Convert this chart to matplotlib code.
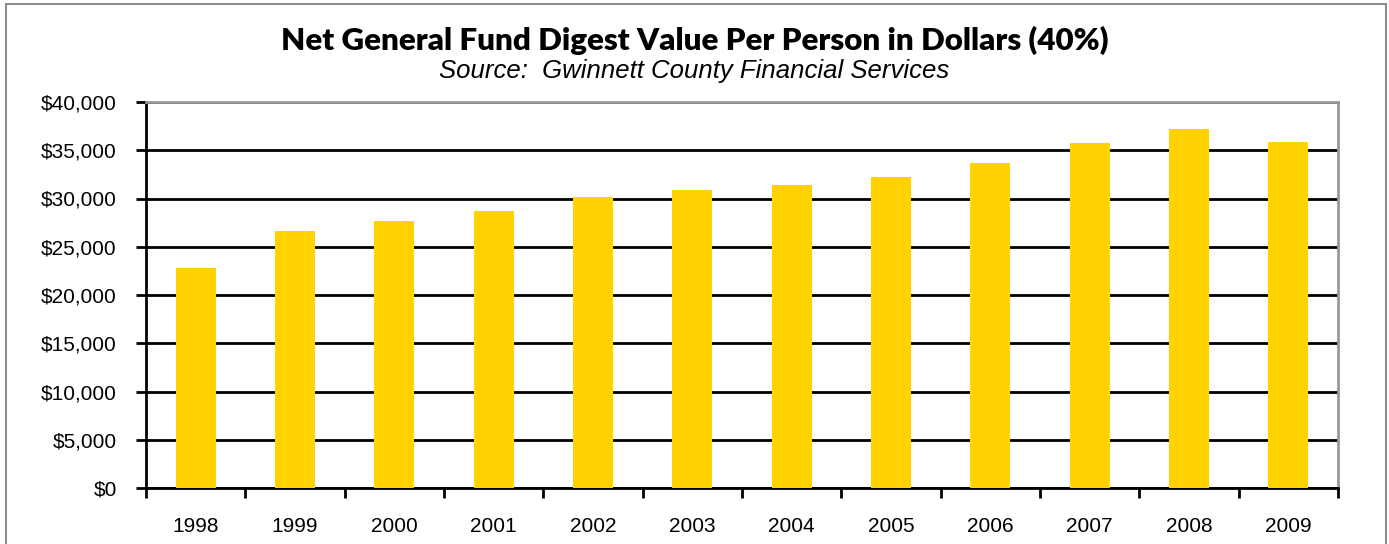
import numpy as np
import matplotlib.pyplot as plt
from matplotlib.ticker import FuncFormatter, FixedLocator
from matplotlib.patches import Rectangle

# Net digest value per person, by year
years = ['1998', '1999', '2000', '2001', '2002', '2003',
         '2004', '2005', '2006', '2007', '2008', '2009']
values = [22800, 26650, 27700, 28700, 30150, 30900,
          31350, 32250, 33700, 35750, 37200, 35850]

fig = plt.figure(figsize=(13.89, 5.44), dpi=100)
ax = fig.add_axes([146 / 1389, 1 - 488 / 544, (1338 - 146) / 1389, (488 - 102) / 544])

# outer frame of the chart
fig.patches.append(Rectangle((6 / 1389, -0.1), (1386 - 6) / 1389, 1.1 - 4 / 544,
                             transform=fig.transFigure, fill=False,
                             edgecolor='#8c8c8c', linewidth=1.5))

x = np.arange(len(years))
ax.bar(x, values, width=0.4, color='#FFD200', zorder=3)

ax.set_xlim(-0.5, len(years) - 0.5)
ax.set_ylim(0, 40000)
ax.set_yticks(np.arange(0, 40001, 5000))
ax.yaxis.set_major_formatter(FuncFormatter(lambda v, p: '${:,.0f}'.format(v)))
ax.grid(axis='y', color='black', linewidth=2, zorder=1)

ax.set_xticks(x)
ax.set_xticklabels(years)
ax.xaxis.set_minor_locator(FixedLocator(np.arange(-0.5, len(years), 1.0)))
ax.tick_params(axis='x', which='major', length=0, pad=21)
ax.tick_params(axis='x', which='minor', length=7, width=2, direction='out', color='black')
ax.tick_params(axis='y', length=7, width=2, direction='out', pad=14)
for lab in ax.get_xticklabels() + ax.get_yticklabels():
    lab.set_fontfamily('Liberation Sans')
    lab.set_fontsize(15)

ax.spines['left'].set_linewidth(2)
ax.spines['bottom'].set_linewidth(2)
ax.spines['top'].set_color('#999999')
ax.spines['right'].set_color('#999999')
ax.spines['top'].set_linewidth(2)
ax.spines['right'].set_linewidth(2)

fig.text(0.5, 1 - 40 / 544, 'Net General Fund Digest Value Per Person in Dollars (40%)',
         ha='center', va='center', fontsize=22.5, fontweight='heavy', family='Lato')
fig.text(0.5, 1 - 71 / 544, 'Source:  Gwinnett County Financial Services',
         ha='center', va='center', fontsize=18.5, style='italic', family='Liberation Sans')

fig.savefig('out.png', dpi=100)
